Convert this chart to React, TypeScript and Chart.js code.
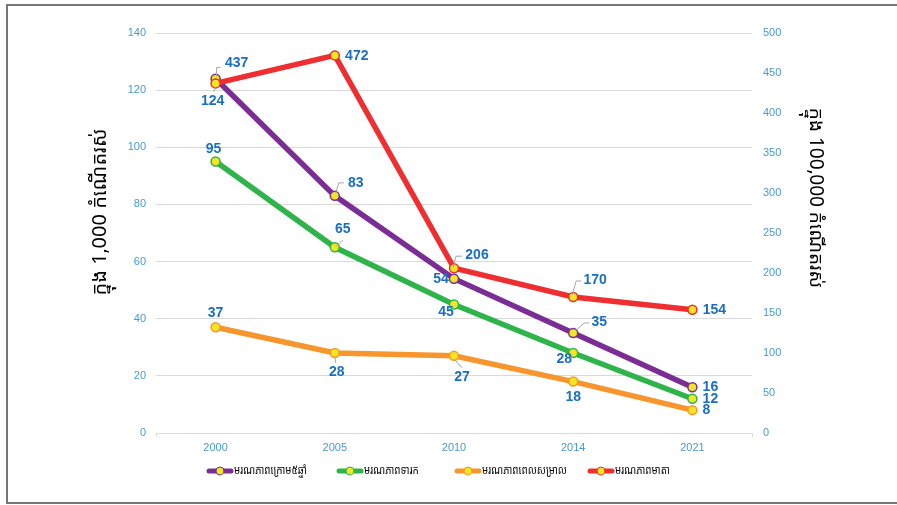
import React, { useEffect, useRef } from "react";
import { Chart, registerables } from "chart.js";
Chart.register(...registerables);

const years = ["2000", "2005", "2010", "2014", "2021"];
const under5 = [124, 83, 54, 35, 16];
const infant = [95, 65, 45, 28, 12];
const neonatal = [37, 28, 27, 18, 8];
const maternal = [437, 472, 206, 170, 154];
const seriesNames = ["មរណភាពក្រោម៥ឆ្នាំ", "មរណភាពទារក", "មរណភាពពេលសម្រាល", "មរណភាពមាតា"];
const leftTitle = "ក្នុង 1,000 កំណើតរស់";
const rightTitle = "ក្នុង 100,000 កំណើតរស់";

const colors = ["#7b2d96", "#2fb34b", "#f7962d", "#ee2e31"];
const pointFill = "#f0e623";
const labelColor = "#1a6fc0";
const tickColor = "#4a98d4";
const khmerFont = "'Noto Sans Khmer','Khmer OS System','Khmer OS','Leelawadee UI','DejaVu Sans',sans-serif";

// label offsets (relative to the point) and leader polylines
const labelOffsets: number[][][] = [
  [[-3, 22], [21, -13], [-13, 0], [26, -11], [18, 0]],
  [[-2, -12], [8, -18], [-8, 8], [-9, 6], [18, 0]],
  [[0, -14], [2, 19], [8, 21], [0, 16], [14, 0]],
  [[21, -20], [22, 1], [23, -13], [22, -17], [22, 0]],
];
const leaders: (number[][] | null)[][] = [
  [[[0, 8], [-2, 13]], [[1, -3], [4, -13], [9, -13]], null, [[3, -3], [11, -10], [16, -10]], null],
  [null, [[1, -1], [8, -7]], null, null, null],
  [null, [[0, 4], [1, 10]], [[1, 4], [8, 12]], null, null],
  [[[1, -7], [1, -16], [5, -16]], null, [[-1, -1], [2, -12], [8, -12]], [[-1, -2], [3, -16], [8, -16]], null],
];
const legendX = [207, 337, 455, 588];

const decor = {
  id: "decor",
  beforeDraw(chart: any) {
    const ctx = chart.ctx;
    ctx.save();
    ctx.fillStyle = "#ffffff";
    ctx.fillRect(0, 0, chart.width, chart.height);
    ctx.strokeStyle = "#767676";
    ctx.lineWidth = 2;
    ctx.strokeRect(7, 5, chart.width + 10, 498);
    ctx.restore();
  },
  afterDatasetsDraw(chart: any) {
    const ctx = chart.ctx;
    ctx.save();
    chart.data.datasets.forEach((ds: any, di: number) => {
      const meta = chart.getDatasetMeta(di);
      meta.data.forEach((pt: any, i: number) => {
        const x = pt.x, y = pt.y;
        const ld = leaders[di][i];
        if (ld) {
          ctx.strokeStyle = "#a6a6a6";
          ctx.lineWidth = 1;
          ctx.beginPath();
          ld.forEach((p, k) => {
            if (k === 0) ctx.moveTo(x + p[0], y + p[1]);
            else ctx.lineTo(x + p[0], y + p[1]);
          });
          ctx.stroke();
        }
        const off = labelOffsets[di][i];
        ctx.fillStyle = labelColor;
        ctx.font = "bold 14px 'Liberation Sans', Arial, sans-serif";
        ctx.textAlign = "center";
        ctx.textBaseline = "middle";
        ctx.fillText(String(ds.data[i]), x + off[0], y + off[1]);
      });
    });
    ctx.restore();
  },
  afterDraw(chart: any) {
    const ctx = chart.ctx;
    ctx.save();
    ctx.fillStyle = "#000000";
    ctx.font = `20px ${khmerFont}`;
    ctx.textAlign = "center";
    ctx.textBaseline = "middle";
    ctx.translate(100, 212);
    ctx.rotate(-Math.PI / 2);
    ctx.fillText(leftTitle, 0, 0);
    ctx.restore();

    ctx.save();
    ctx.fillStyle = "#000000";
    ctx.font = `19px ${khmerFont}`;
    ctx.textAlign = "center";
    ctx.textBaseline = "middle";
    ctx.translate(815, 198);
    ctx.rotate(Math.PI / 2);
    ctx.fillText(rightTitle, 0, 0);
    ctx.restore();

    // legend
    const ly = 471;
    seriesNames.forEach((name, i) => {
      const x0 = legendX[i];
      ctx.save();
      ctx.strokeStyle = colors[i];
      ctx.lineWidth = 5;
      ctx.lineCap = "round";
      ctx.beginPath();
      ctx.moveTo(x0 + 2, ly);
      ctx.lineTo(x0 + 24, ly);
      ctx.stroke();
      ctx.beginPath();
      ctx.arc(x0 + 13, ly, 4, 0, Math.PI * 2);
      ctx.fillStyle = pointFill;
      ctx.fill();
      ctx.lineWidth = 1;
      ctx.strokeStyle = colors[i];
      ctx.stroke();
      ctx.fillStyle = "#000000";
      ctx.font = `12px ${khmerFont}`;
      ctx.textAlign = "left";
      ctx.textBaseline = "middle";
      ctx.translate(x0 + 27, ly);
      ctx.scale(0.82, 1);
      ctx.fillText(name, 0, 0);
      ctx.restore();
    });
  },
};

export default function App() {
  const ref = useRef<HTMLCanvasElement>(null);
  useEffect(() => {
    if (!ref.current) return;
    const mk = (label: string, data: number[], i: number, axis: string, order: number) => ({
      label,
      data,
      yAxisID: axis,
      borderColor: colors[i],
      backgroundColor: colors[i],
      borderWidth: 5.5,
      pointRadius: 4.5,
      pointBackgroundColor: pointFill,
      pointBorderColor: colors[i],
      pointBorderWidth: 1.5,
      tension: 0,
      order,
    });
    const chart = new Chart(ref.current, {
      type: "line",
      data: {
        labels: years,
        datasets: [
          mk(seriesNames[0], under5, 0, "y", 1),
          mk(seriesNames[1], infant, 1, "y", 2),
          mk(seriesNames[2], neonatal, 2, "y", 3),
          mk(seriesNames[3], maternal, 3, "y1", 0),
        ],
      },
      options: {
        responsive: false,
        animation: false,
        devicePixelRatio: 1,
        layout: { padding: { top: 33, left: 0, right: 0, bottom: 0 } },
        plugins: { legend: { display: false }, tooltip: { enabled: false } },
        scales: {
          x: {
            type: "category",
            offset: true,
            grid: {
              display: true,
              drawOnChartArea: false,
              drawTicks: true,
              tickLength: 4,
              offset: true,
              color: (c: any) => (c.type !== "tick" || c.index === 0 ? "#d9d9d9" : "rgba(0,0,0,0)"),
            },
            border: { display: true, color: "#d9d9d9" },
            ticks: { color: tickColor, font: { size: 11, family: "'Liberation Sans', Arial, sans-serif" }, padding: 4 },
            afterFit: (s: any) => { s.height = 72; },
          },
          y: {
            position: "left",
            min: 0,
            max: 140,
            ticks: { stepSize: 20, color: tickColor, font: { size: 11, family: "'Liberation Sans', Arial, sans-serif" }, padding: 10 },
            grid: { color: "#d9d9d9", drawTicks: false },
            border: { display: false },
            afterFit: (s: any) => { s.width = 156; },
          },
          y1: {
            position: "right",
            min: 0,
            max: 500,
            ticks: { stepSize: 50, color: tickColor, font: { size: 11, family: "'Liberation Sans', Arial, sans-serif" }, padding: 11 },
            grid: { display: false, drawTicks: false },
            border: { display: false },
            afterFit: (s: any) => { s.width = 145; },
          },
        },
      },
      plugins: [decor],
    } as any);
    return () => chart.destroy();
  }, []);
  return (
    <div style={{ position: "absolute", left: 0, top: 0, width: 897, height: 505 }}>
      <canvas ref={ref} width={897} height={505} style={{ width: 897, height: 505, display: "block" }} />
    </div>
  );
}
